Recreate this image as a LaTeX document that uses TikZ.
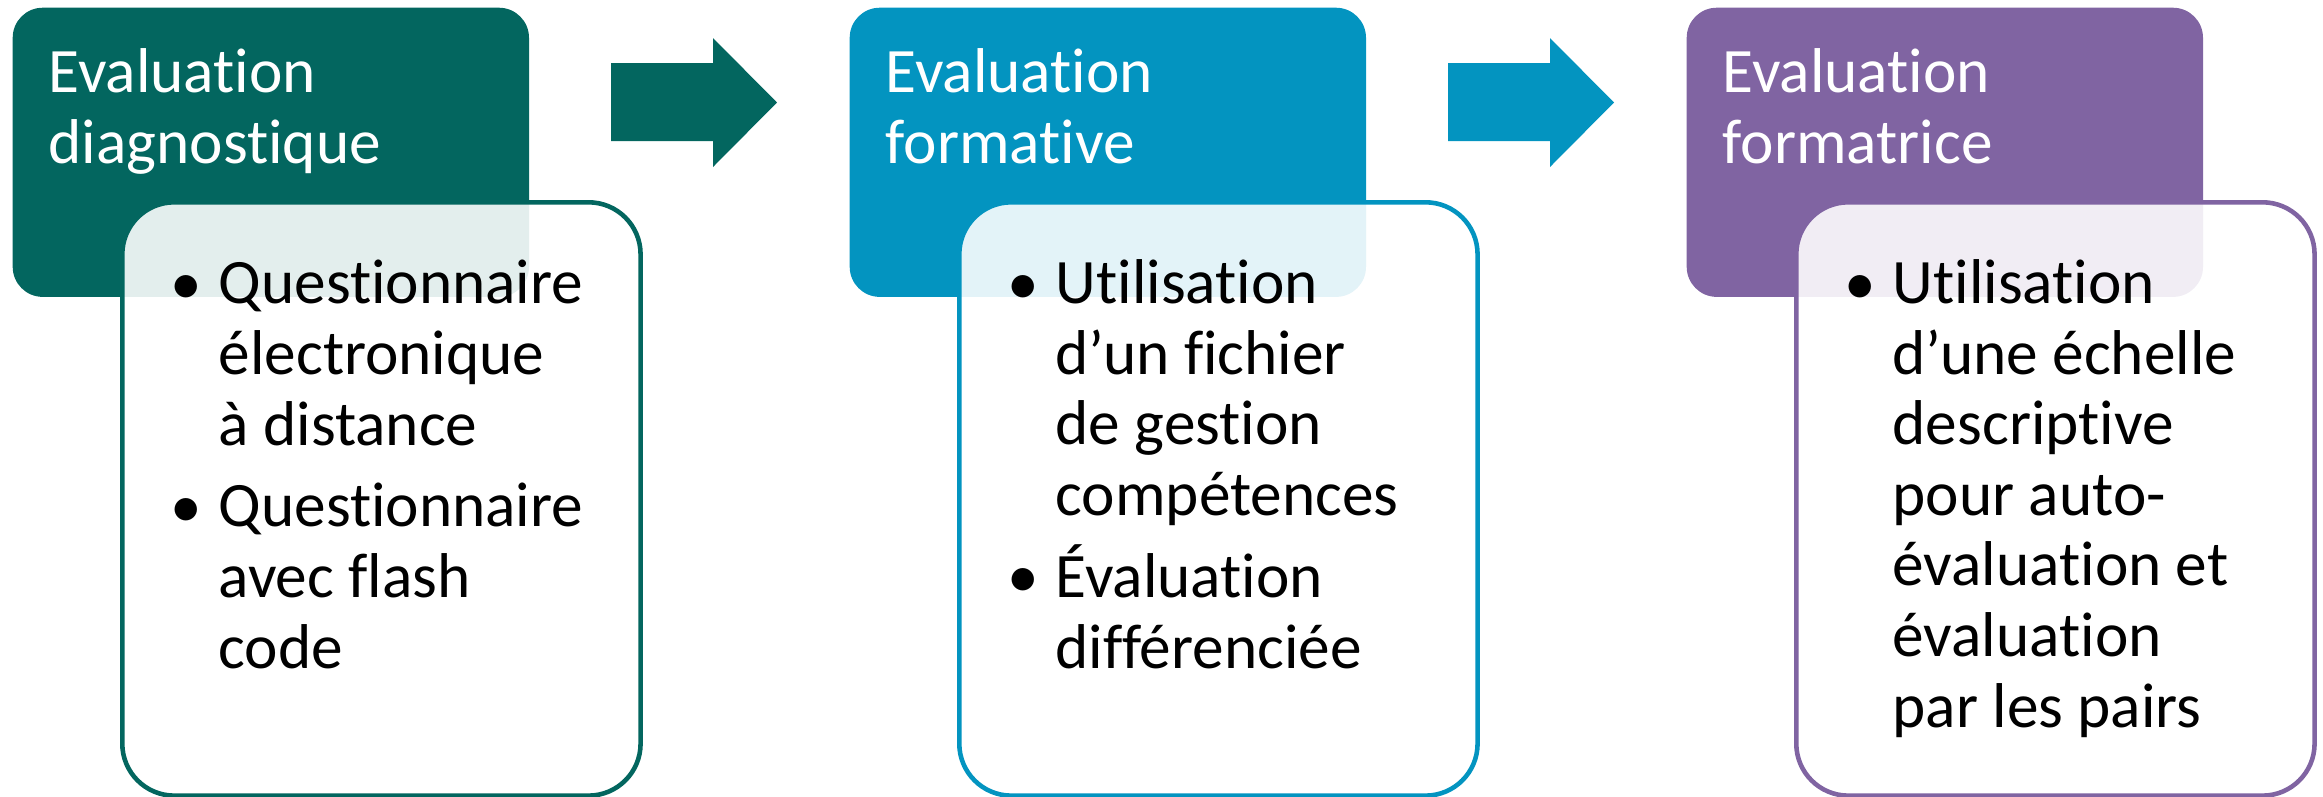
\documentclass[tikz,border=0pt]{standalone}
\usepackage{fontspec}
\setmainfont{Carlito}[Ligatures={NoCommon}]
\usetikzlibrary{positioning,calc}
\definecolor{diagteal}{HTML}{03665F}
\definecolor{formblue}{HTML}{0394C0}
\definecolor{formpurple}{HTML}{8064A2}
\newcommand{\boxfont}{\fontsize{18}{20.06}\selectfont}

\begin{document}
\begin{tikzpicture}[x=0.01cm, y=-0.01cm,
    headbox/.style={rounded corners=0.3cm, minimum width=5.16cm, minimum height=2.89cm, inner sep=0, anchor=north west},
    bodybox/.style={rounded corners=0.52cm, fill=white, fill opacity=0.89, line width=1.3pt, minimum width=5.18cm, minimum height=5.93cm, inner sep=0, anchor=north west},
    headtext/.style={white, font=\boxfont, align=left, inner sep=0, anchor=base west},
    itemtext/.style={black, font=\boxfont, align=left, inner sep=0, anchor=base west},
    bulletdot/.style={black, font=\boxfont, inner sep=0, anchor=base west}]
    \useasboundingbox (0,0) rectangle (2323,796);

    % Panel 1 - diagnostique
    % (multi-line texts are placed by the baseline of their last line)
    \begin{scope}[shift={(0,0)}]
        \node[headbox, fill=diagteal] (head1) at (12,7) {};
        \node[headtext] (title1) at (48,163.5) {Evaluation\\diagnostique};
        \node[bodybox, draw=diagteal] (body1) at (120,200) {};
        \node[bulletdot] (dot1a) at (170,304) {•};
        \node[itemtext] (item1a) at (218,445) {Questionnaire\\électronique\\à distance};
        \node[bulletdot] (dot1b) at (170,527) {•};
        \node[itemtext] (item1b) at (218,668) {Questionnaire\\avec flash\\code};
        % Block arrow to next panel
        \fill[diagteal] (611,63) -- (713,63) -- (713,38) -- (777,102.5)
            -- (713,167) -- (713,141) -- (611,141) -- cycle;
    \end{scope}

    % Panel 2 - formative
    \begin{scope}[shift={(837,0)}]
        \node[headbox, fill=formblue] (head2) at (12,7) {};
        \node[headtext] (title2) at (48,163.5) {Evaluation\\formative};
        \node[bodybox, draw=formblue] (body2) at (120,200) {};
        \node[bulletdot] (dot2a) at (170,304) {•};
        \node[itemtext] (item2a) at (218,515.5) {Utilisation\\d’un fichier\\de gestion\\compétences};
        \node[bulletdot] (dot2b) at (170,597.5) {•};
        \node[itemtext] (item2b) at (218,668) {Évaluation\\différenciée};
        % Block arrow to next panel
        \fill[formblue] (611,63) -- (713,63) -- (713,38) -- (777,102.5)
            -- (713,167) -- (713,141) -- (611,141) -- cycle;
    \end{scope}

    % Panel 3 - formatrice
    \begin{scope}[shift={(1674,0)}]
        \node[headbox, fill=formpurple] (head3) at (12,7) {};
        \node[headtext] (title3) at (48,163.5) {Evaluation\\formatrice};
        \node[bodybox, draw=formpurple] (body3) at (120,200) {};
        \node[bulletdot] (dot3a) at (170,304) {•};
        \node[itemtext] (item3a) at (218,727) {Utilisation\\d’une échelle\\descriptive\\pour auto-\\évaluation et\\évaluation\\par les pairs};
    \end{scope}
\end{tikzpicture}
\end{document}
